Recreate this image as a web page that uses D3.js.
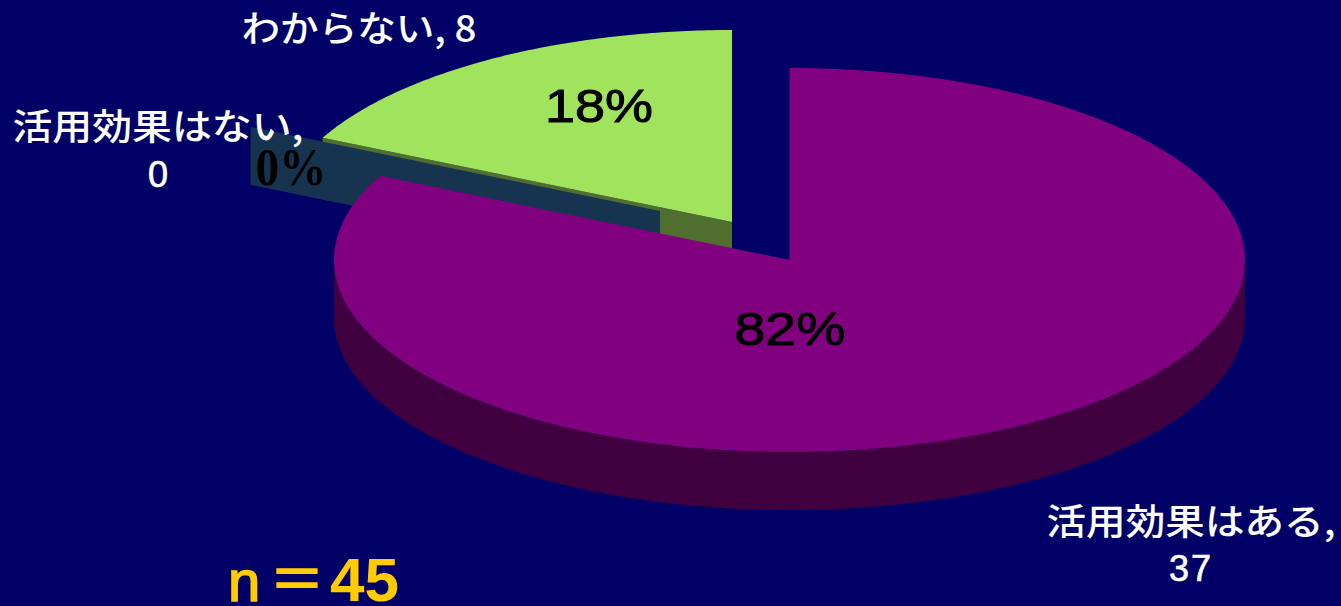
<!DOCTYPE html>
<html lang="ja">
<head>
<meta charset="utf-8">
<script src="https://cdn.jsdelivr.net/npm/d3@7/dist/d3.min.js"></script>
<style>
html,body{margin:0;padding:0;background:#000066;overflow:hidden}
svg{display:block}
</style>
</head>
<body>
<svg id="chart" width="1341" height="606"></svg>
<script>
// Survey responses, in the order the slices run clockwise from twelve o'clock
const categories = ["活用効果はある", "活用効果はない", "わからない"];
const counts = [37, 0, 8];
const percentLabels = ["82%", "0%", "18%"];
const sampleSize = 45;

const topColors = ["#800080", "#163350", "#a0e35c"];
const wallColors = ["#400040", "#163350", "#506e2e"];

const W = 1341, H = 606;
const centre = {x: 789.5, y: 260};
const rx = 455.5, ry = 192, depth = 58;
// Exploded slice offsets in pixels
const shifts = [{x: 0, y: 0}, {x: -129.5, y: -49}, {x: -57.5, y: -38}];

const svg = d3.select("#chart");
svg.append("rect").attr("width", W).attr("height", H).attr("fill", "#000066");

const slices = d3.pie().sort(null).value(d => d)(counts);

// Tilted disc: a unit circle mapped onto the ellipse through two scales
const px = d3.scaleLinear().domain([-1, 1]).range([centre.x - rx, centre.x + rx]);
const py = d3.scaleLinear().domain([-1, 1]).range([centre.y - ry, centre.y + ry]);
const rim = (a, s, drop = 0) => [px(Math.sin(a)) + s.x, py(-Math.cos(a)) + s.y + drop];
const apex = (s, drop = 0) => [px(0) + s.x, py(0) + s.y + drop];
const line = d3.line();

function topPath(d, s) {
  const n = Math.max(2, Math.ceil((d.endAngle - d.startAngle) * 90));
  const pts = d3.range(n + 1).map(i => rim(d.startAngle + (d.endAngle - d.startAngle) * i / n, s));
  return line([apex(s), ...pts]) + "Z";
}
function cutWall(angle, s) {
  return line([apex(s), rim(angle, s), rim(angle, s, depth), apex(s, depth)]) + "Z";
}
function rimWall(a0, a1, s) {
  const n = Math.ceil((a1 - a0) * 90);
  const angles = d3.range(n + 1).map(i => a0 + (a1 - a0) * i / n);
  return line([...angles.map(a => rim(a, s)), ...angles.slice().reverse().map(a => rim(a, s, depth))]) + "Z";
}

const g = svg.append("g");

// Back pieces first: the "don't know" slice, then the zero slice's cut face
const [yes, none, unknown] = slices;
g.append("path").attr("d", cutWall(unknown.startAngle, shifts[2])).attr("fill", wallColors[2]);
g.append("path").attr("d", topPath(unknown, shifts[2])).attr("fill", topColors[2]);
g.append("path").attr("d", cutWall(none.startAngle, shifts[1])).attr("fill", wallColors[1]);

// Largest slice sits in front of everything else
g.append("path").attr("d", rimWall(Math.PI / 2, 3 * Math.PI / 2, shifts[0])).attr("fill", wallColors[0]);
g.append("path").attr("d", topPath(yes, shifts[0])).attr("fill", topColors[0]);

// Text
const jp = "'Noto Sans CJK JP','Noto Sans',sans-serif";
function label(x, y, text, opts) {
  const o = Object.assign({size: 36, fill: "#ffffff", family: jp, anchor: "middle", weight: 500, stroke: 0}, opts);
  const t = svg.append("text").attr("x", x).attr("y", y).text(text)
    .attr("font-family", o.family).attr("font-size", o.size).attr("fill", o.fill)
    .attr("font-weight", o.weight).attr("text-anchor", o.anchor);
  if (o.stroke) t.attr("stroke", o.fill).attr("stroke-width", o.stroke);
  if (o.length) t.attr("textLength", o.length).attr("lengthAdjust", "spacingAndGlyphs");
  if (o.spacing) t.attr("letter-spacing", o.spacing);
  return t;
}
const sans = "'Liberation Sans',Arial,sans-serif";
const serif = "'Liberation Serif','Times New Roman',serif";

label(1191, 535, `${categories[0]},`, {length: 289});
label(1191, 581, counts[0], {family: sans, size: 36, stroke: 0.7, spacing: 2});
label(158, 140, `${categories[1]},`, {length: 291});
label(158, 187, counts[1], {family: sans, size: 36, stroke: 0.7});
label(359, 42, `${categories[2]}, ${counts[2]}`, {length: 235});

label(790, 345, percentLabels[0], {family: sans, size: 47, fill: "#000000", length: 111, stroke: 1});
label(291, 185, percentLabels[1], {family: serif, weight: 700, size: 52, fill: "#000000", length: 71});
label(599, 122, percentLabels[2], {family: sans, size: 47, fill: "#000000", length: 108, stroke: 1});

const nLabel = svg.append("text").attr("x", 228).attr("y", 601)
  .attr("font-family", sans).attr("fill", "#ffcc00");
nLabel.append("tspan").attr("font-size", 58).attr("stroke", "#ffcc00").attr("stroke-width", 1.6).text("n");
nLabel.append("tspan").attr("x", 268).attr("font-family", jp).attr("font-size", 58).attr("font-weight", 700).text("＝");
nLabel.append("tspan").attr("x", 330).attr("font-size", 62).attr("font-weight", 700).text(sampleSize);
</script>
</body>
</html>
